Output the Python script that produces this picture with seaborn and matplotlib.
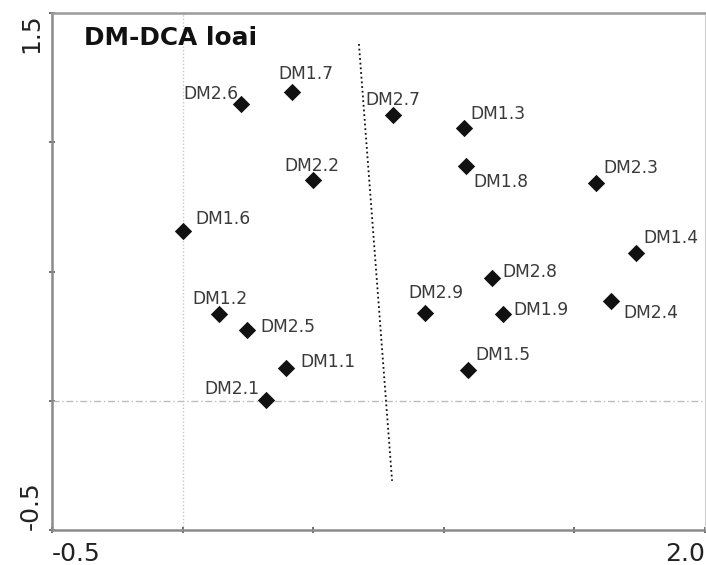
import matplotlib
matplotlib.use("Agg")
import matplotlib.pyplot as plt
import seaborn as sns
import pandas as pd

# ---- data ----
labels = ["DM2.6", "DM1.7", "DM2.2", "DM1.6", "DM2.7", "DM1.3", "DM1.8", "DM2.3", "DM1.4",
          "DM2.8", "DM2.9", "DM1.9", "DM2.4", "DM1.5", "DM1.2", "DM2.5", "DM1.1", "DM2.1"]
axis1 = [0.224, 0.419, 0.499, 0.002, 0.806, 1.077, 1.085, 1.583, 1.736,
         1.185, 0.928, 1.227, 1.640, 1.093, 0.139, 0.247, 0.396, 0.319]
axis2 = [1.148, 1.194, 0.854, 0.657, 1.105, 1.055, 0.908, 0.842, 0.572,
         0.475, 0.339, 0.336, 0.386, 0.119, 0.336, 0.274, 0.127, 0.003]
split_x = [0.675, 0.802]
split_y = [1.380, -0.310]
x_ticks = [-0.5, 0.0, 0.5, 1.0, 1.5, 2.0]
x_ticklabels = ["-0.5", "", "", "", "", "2.0"]
y_ticks = [-0.5, 0.0, 0.5, 1.0, 1.5]
y_ticklabels = ["-0.5", "", "", "", "1.5"]
title = "DM-DCA loai"

# label placement offsets (pixels: dx to text left, dy to baseline, up positive)
label_offsets = {
    "DM2.6": (-58, 5), "DM1.7": (-14, 13), "DM2.2": (-29, 9), "DM1.6": (12, 7),
    "DM2.7": (-28, 10), "DM1.3": (6, 9), "DM1.8": (7, -21), "DM2.3": (7, 10),
    "DM1.4": (7, 10), "DM2.8": (10, 1), "DM2.9": (-17, 15), "DM1.9": (10, -1),
    "DM2.4": (12, -17), "DM1.5": (7, 10), "DM1.2": (-27, 10), "DM2.5": (13, -2),
    "DM1.1": (14, 1), "DM2.1": (-62, 6),
}

df = pd.DataFrame({"label": labels, "x": axis1, "y": axis2})

sns.set_theme(style="white")
plt.rcParams["font.family"] = ["DejaVu Sans"]

fig = plt.figure(figsize=(7.06, 5.65), dpi=100)
ax = fig.add_axes([52 / 706, 35 / 565, 653 / 706, 517 / 565])

# reference lines
ax.axvline(0, color="#c8c8c8", lw=1.0, ls=(0, (1, 1.5)), zorder=1)
ax.axhline(0, color="#bdbdbd", lw=1.0, ls=(0, (5, 2, 1, 2)), zorder=1)

# dotted separation line
ax.plot(split_x, split_y, color="#111111", lw=1.3, ls=(0, (1, 1.6)), zorder=2)

sns.scatterplot(data=df, x="x", y="y", marker="D", s=78, color="#111111",
                linewidth=0, ax=ax, zorder=3, legend=False)

for lab, xv, yv in zip(labels, axis1, axis2):
    dx, dy = label_offsets[lab]
    ax.annotate(lab, (xv, yv), xytext=(dx, dy), textcoords="offset pixels",
                ha="left", va="baseline", fontsize=12.3, color="#3a3a3a", zorder=4)

ax.text(32 / 653, (530 - 45) / 517, title, transform=ax.transAxes,
        ha="left", va="baseline", fontsize=17.8, fontweight="bold", color="#111111")

ax.set_xlim(-0.5, 2.0)
ax.set_ylim(-0.5, 1.5)
ax.set_xlabel("")
ax.set_ylabel("")

ax.set_xticks(x_ticks)
ax.set_xticklabels(x_ticklabels, fontsize=18, color="#222222")
ax.set_yticks(y_ticks)
ax.set_yticklabels(y_ticklabels, fontsize=18, color="#222222", rotation=90)
xl = ax.get_xticklabels()
xl[0].set_ha("left")
xl[-1].set_ha("right")
yl = ax.get_yticklabels()
yl[0].set_va("bottom")
yl[-1].set_va("top")
for t in yl:
    t.set_ha("right")

ax.tick_params(axis="both", direction="inout", length=5, width=1.2, color="#555555",
               bottom=True, left=True)
ax.tick_params(axis="x", pad=6)
ax.tick_params(axis="y", pad=4)

for side in ["left", "bottom"]:
    ax.spines[side].set_color("#8a8a8a")
    ax.spines[side].set_linewidth(1.8)
ax.spines["top"].set_color("#9a9a9a")
ax.spines["top"].set_linewidth(1.8)
ax.spines["right"].set_color("#cfcfcf")
ax.spines["right"].set_linewidth(0.8)
for side in ["left", "bottom", "top", "right"]:
    ax.spines[side].set_visible(True)
ax.grid(False)

fig.savefig("out.png", dpi=100)
